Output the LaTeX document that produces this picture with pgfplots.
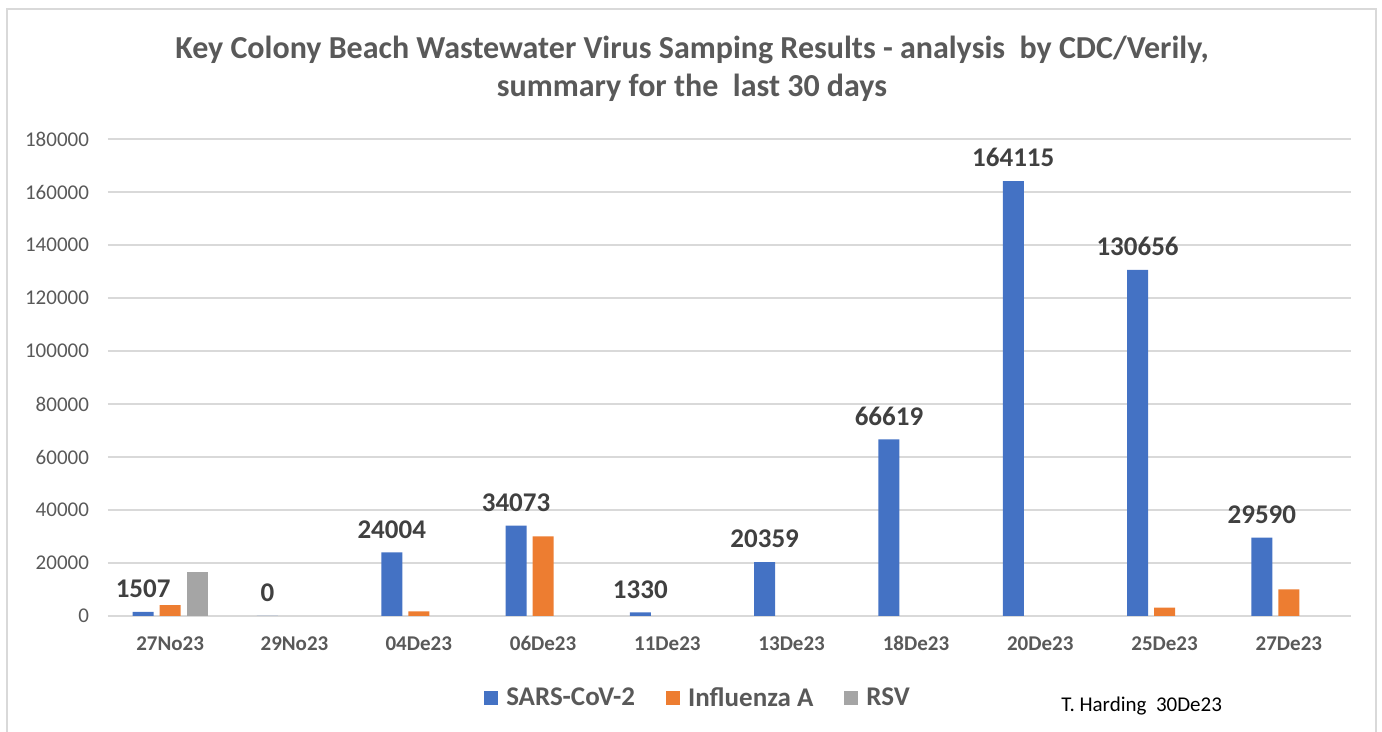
\documentclass[border=0pt]{standalone}
\usepackage{pgfplots}
\pgfplotsset{compat=1.18}
\usepackage{fontspec}
\setmainfont{Carlito}
\definecolor{cblue}{HTML}{4472C4}
\definecolor{corange}{HTML}{ED7D31}
\definecolor{cgray}{HTML}{A5A5A5}
\definecolor{gridc}{HTML}{D9D9D9}
\definecolor{tgray}{HTML}{595959}
\definecolor{lgray}{HTML}{404040}
\begin{document}
\begin{tikzpicture}
\useasboundingbox (0,0) rectangle (691pt,366pt);
\draw[color=gridc, line width=1pt] (3.5pt,-5pt) -- (3.5pt,361.5pt) -- (688pt,361.5pt) -- (688pt,-5pt);
\node[font=\bfseries\fontsize{16}{18}\selectfont, text=tgray] at (346pt,341pt) {Key Colony Beach Wastewater Virus Samping Results - analysis\ \ by CDC/Verily,};
\node[font=\bfseries\fontsize{16}{18}\selectfont, text=tgray] at (346pt,322pt) {summary for the\ \ last 30 days};
\node[font=\fontsize{10.5}{12}\selectfont, text=black, anchor=base west, inner sep=0pt] at (530.5pt,10pt) {T. Harding\ \ 30De23};
\begin{axis}[
  at={(54pt,58pt)}, anchor=south west, scale only axis,
  width=621.5pt, height=238.5pt,
  ybar, bar width=10.5pt,
  ymin=0, ymax=180000, xmin=-0.5, xmax=9.5,
  ytick={0,20000,40000,60000,80000,100000,120000,140000,160000,180000},
  xtick={0,...,9},
  xticklabels={27No23,29No23,04De23,06De23,11De23,13De23,18De23,20De23,25De23,27De23},
  axis line style={draw=none},
  ymajorgrids, grid style={gridc, line width=0.75pt},
  major tick length=0pt,
  scaled y ticks=false,
  yticklabel style={font=\fontsize{10.5}{12}\selectfont, text=tgray, xshift=-6pt, /pgf/number format/.cd, 1000 sep={}, fixed, assume math mode=true},
  xticklabel style={font=\bfseries\fontsize{10.5}{12}\selectfont, text=tgray, text height=7pt, text depth=0pt, yshift=-6.5pt},
  legend style={at={(0.4755,-0.1725)}, anchor=center, draw=none, fill=none, legend columns=3,
    font=\bfseries\fontsize{13.5}{15}\selectfont, text=tgray,
    /tikz/every odd column/.append style={column sep=2pt},
    /tikz/every even column/.append style={column sep=13.5pt}},
  legend image code/.code={\fill[#1] (0pt,-3.5pt) rectangle (7pt,3.5pt);},
]
\addplot[fill=cblue, draw=none, bar shift=-13.5pt, point meta=explicit symbolic,
  nodes near coords, nodes near coords style={font=\bfseries\fontsize{13.5}{15}\selectfont, text=lgray, yshift=3.5pt}]
  coordinates {(0,1507) [1507] (1,0) [0] (2,24004) [24004] (3,34073) [34073] (4,1330) [1330]
  (5,20359) [20359] (6,66619) [66619] (7,164115) [164115] (8,130656) [130656] (9,29590) [29590]};
\addlegendentry{SARS-CoV-2}
\addplot[fill=corange, draw=none, bar shift=0pt]
  coordinates {(0,4100) (2,1700) (3,30000) (8,3200) (9,10000)};
\addlegendentry{Influenza A}
\addplot[fill=cgray, draw=none, bar shift=13.5pt]
  coordinates {(0,16700)};
\addlegendentry{RSV}
\end{axis}
\end{tikzpicture}
\end{document}
